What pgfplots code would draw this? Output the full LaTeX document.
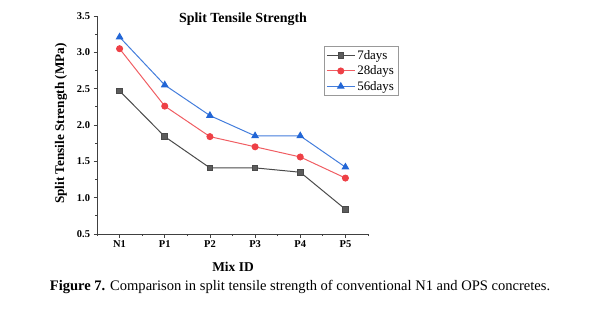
\documentclass[border=0pt]{standalone}
\usepackage{pgfplots}
\pgfplotsset{compat=1.18}
\usepackage{fontspec}
\setmainfont{Liberation Serif}

\definecolor{sevenday}{HTML}{4A4A4A}
\definecolor{twentyeight}{HTML}{EE4046}
\definecolor{fiftysix}{HTML}{2266D6}

\begin{document}
\begin{tikzpicture}[x=1bp,y=1bp]
\path[use as bounding box] (0,0) rectangle (592,308);
\begin{axis}[
  at={(97bp,74bp)},
  scale only axis, width=271bp, height=218bp,
  anchor=south west,
  xmin=-0.5, xmax=5.5, ymin=0.5, ymax=3.5,
  axis x line*=bottom, axis y line*=left,
  axis line style={black!75, line width=0.8pt},
  tick align=outside,
  major tick length=3.5bp, minor tick length=2bp,
  every tick/.style={black!75, line width=0.7pt},
  xtick={0,1,2,3,4,5},
  xticklabels={N1,P1,P2,P3,P4,P5},
  minor xtick={-0.5,0.5,1.5,2.5,3.5,4.5,5.5},
  ytick={0.5,1.0,...,3.5},
  minor ytick={0.75,1.25,...,3.25},
  /pgf/number format/assume math mode=true,
  yticklabel style={/pgf/number format/.cd, fixed, fixed zerofill, precision=1},
  tick label style={font=\fontsize{10.5}{12}\selectfont\bfseries},
  legend style={at={(0.838,0.862)}, anchor=north west, draw=black!40,
    font=\fontsize{13}{14}\selectfont, inner sep=2pt, row sep=1pt},
  legend cell align=left,
  legend image code/.code={%
    \draw[mark repeat=2, mark phase=2] plot coordinates {(0bp,0bp) (14bp,0bp) (28bp,0bp)};},
  every axis plot/.append style={line width=1pt},
]
\addplot[sevenday, mark=square*, mark size=2.8pt, mark options={fill=sevenday!90!white}]
  coordinates {(0,2.47) (1,1.84) (2,1.41) (3,1.41) (4,1.35) (5,0.84)};
\addlegendentry{7days}
\addplot[twentyeight!85!white, mark=*, mark size=3pt, mark options={fill=twentyeight, draw=twentyeight}]
  coordinates {(0,3.05) (1,2.26) (2,1.84) (3,1.70) (4,1.56) (5,1.27)};
\addlegendentry{28days}
\addplot[fiftysix!85!white, mark=triangle*, mark size=3.6pt, mark options={fill=fiftysix, draw=fiftysix}]
  coordinates {(0,3.21) (1,2.55) (2,2.13) (3,1.85) (4,1.85) (5,1.42)};
\addlegendentry{56days}
\end{axis}
\node[font=\fontsize{14}{16}\selectfont\bfseries] at (243,289) {Split Tensile Strength};
\node[font=\fontsize{13.3}{15}\selectfont\bfseries, rotate=90] at (61,184.5) {Split Tensile Strength (MPa)};
\node[font=\fontsize{13.5}{15}\selectfont\bfseries] at (233,41) {Mix ID};
\node[font=\fontsize{14.6}{16}\selectfont] at (300,21) {\textbf{Figure 7.} Comparison in split tensile strength of conventional N1 and OPS concretes.};
\end{tikzpicture}
\end{document}
